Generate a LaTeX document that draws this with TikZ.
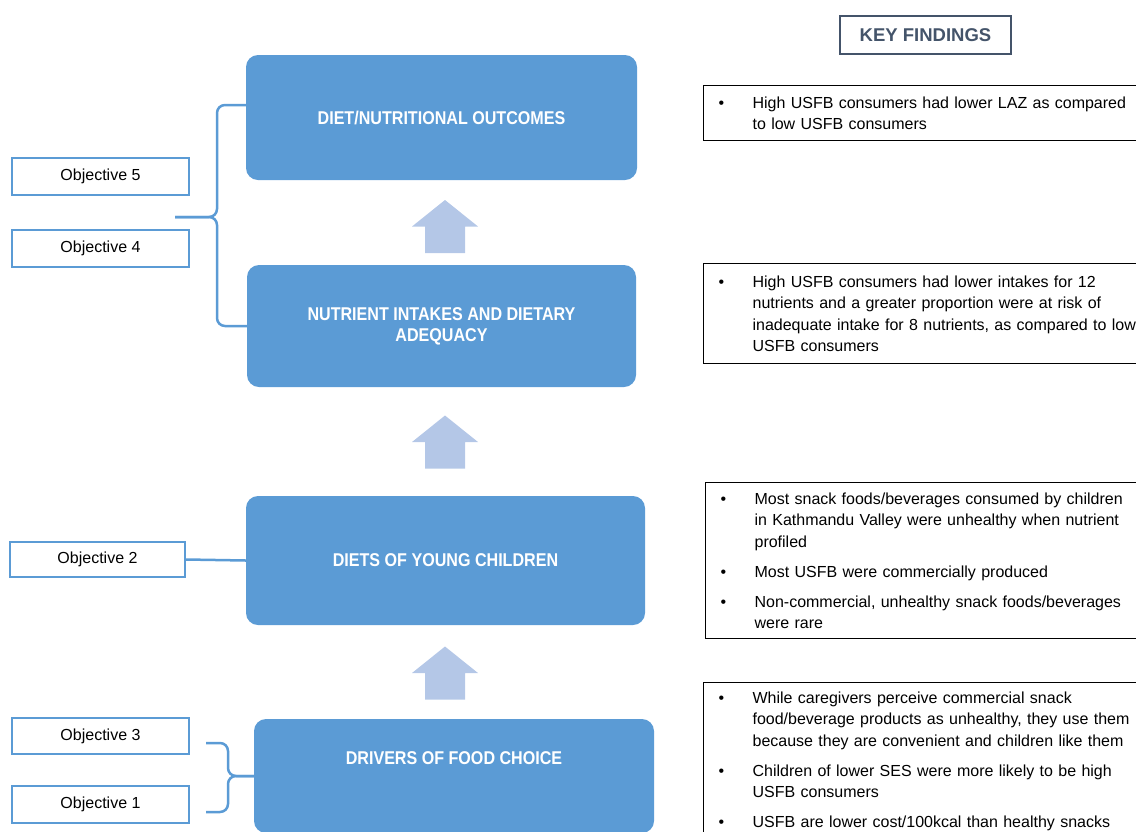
\documentclass[tikz,border=0pt]{standalone}
\usepackage{fontspec}
\setmainfont{Liberation Sans}
\newfontfamily\headfont[FakeStretch=0.87]{Liberation Sans}
\usepackage{tikz}
\usetikzlibrary{positioning, calc}

\definecolor{stageblue}{HTML}{5B9BD5}
\definecolor{arrowblue}{HTML}{B4C7E7}
\definecolor{slate}{HTML}{44546A}

\newcommand{\kfitem}[1]{\noindent\hangindent=34pt\hangafter=1\makebox[34pt][l]{\textbullet}#1\par}

\tikzset{
  stage/.style={rectangle, rounded corners=12pt, fill=stageblue, text=white, align=center, font=\headfont\bfseries\fontsize{18.5}{21}\selectfont},
  objbox/.style={rectangle, draw=stageblue, line width=2pt, fill=white, minimum width=177pt, minimum height=37pt, font=\fontsize{16}{19}\selectfont},
  findbox/.style={rectangle, draw=black, line width=1.2pt, anchor=north west, inner xsep=15pt, text width=440pt, align=left, font=\fontsize{16}{21.5}\selectfont, execute at begin node={\setlength{\parskip}{8.5pt}}},
  uparrow/.style={fill=arrowblue},
  objline/.style={draw=stageblue, line width=2.5pt, rounded corners=8pt},
}

\begin{document}
\begin{tikzpicture}[x=1pt, y=-1pt]
    \useasboundingbox (0,0) rectangle (1136,831);
    \clip (0,0) rectangle (1136,831);

    % stages
    \node[stage, minimum width=391pt, minimum height=125pt] (outcomes) at (441.5,117.5) {DIET/NUTRITIONAL OUTCOMES};
    \node[stage, minimum width=389pt, minimum height=122pt] (intakes) at (441.5,326) {NUTRIENT INTAKES AND DIETARY\\ADEQUACY};
    \node[stage, minimum width=399pt, minimum height=129pt] (diets) at (445.5,560.5) {DIETS OF YOUNG CHILDREN};
    \node[stage, minimum width=400pt, minimum height=114pt] (drivers) at (454,776) {};
    \node[stage, fill=none] (driverstext) at (454,758) {DRIVERS OF FOOD CHOICE};

    % block arrows between the stages
    \foreach \y in {226.5, 442, 673}
        \fill[uparrow] (425,\y+26.5) -- (425,\y) -- (412,\y) -- (445,\y-26.5) -- (478,\y) -- (465,\y) -- (465,\y+26.5) -- cycle;

    % objectives
    \node[objbox] (obj5) at (100.5,176.5) {Objective 5};
    \node[objbox] (obj4) at (100.5,248.5) {Objective 4};
    \node[objbox, minimum width=175pt, minimum height=35pt] (obj2) at (97.5,559.5) {Objective 2};
    \node[objbox, minimum height=36pt] (obj3) at (100.5,736) {Objective 3};
    \node[objbox] (obj1) at (100.5,804.5) {Objective 1};

    \coordinate (tip54) at (175,217);
    \coordinate (spine54) at (217,217);
    \draw[objline] ($(outcomes.west)+(0,-12.5)$) -| (spine54) -- (tip54);
    \draw[objline] (tip54) -- (spine54) |- (intakes.west);

    \draw[objline] (obj2.east) -- (diets.west);

    \coordinate (spine31) at (228,776);
    \coordinate (end3) at ($(obj3.east)+(16,7)$);
    \coordinate (end1) at ($(obj1.east)+(16,7.5)$);
    \draw[objline] (end3) -| (spine31) -- (drivers.west);
    \draw[objline] (drivers.west) -- (spine31) |- (end1);

    % key findings
    \node[rectangle, draw=slate, line width=2.5pt, minimum width=171pt, minimum height=38pt, text=slate, font=\bfseries\fontsize{18.5}{22}\selectfont] (keyfind) at (925.5,35) {KEY FINDINGS};

    \node[findbox, minimum height=55pt] (find1) at (703,85) {%
        \kfitem{High USFB consumers had lower LAZ as compared\newline to low USFB consumers}%
    };
    \node[findbox, minimum height=100pt] (find2) at (703,263) {%
        \kfitem{High USFB consumers had lower intakes for 12\newline nutrients and a greater proportion were at risk of\newline inadequate intake for 8 nutrients, as compared to low\newline USFB consumers}%
    };
    \node[findbox, minimum height=156pt] (find3) at (705,482) {%
        \kfitem{Most snack foods/beverages consumed by children\newline in Kathmandu Valley were unhealthy when nutrient\newline profiled}
        \kfitem{Most USFB were commercially produced}
        \kfitem{Non-commercial, unhealthy snack foods/beverages\newline were rare}%
    };
    \node[findbox, minimum height=158pt] (find4) at (703,682) {%
        \kfitem{While caregivers perceive commercial snack\newline food/beverage products as unhealthy, they use them\newline because they are convenient and children like them}
        \kfitem{Children of lower SES were more likely to be high\newline USFB consumers}
        \kfitem{USFB are lower cost/100kcal than healthy snacks}%
    };
\end{tikzpicture}
\end{document}
